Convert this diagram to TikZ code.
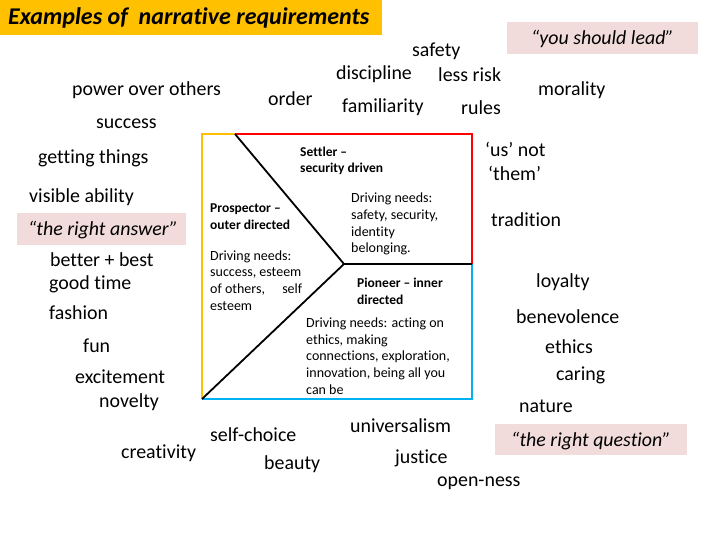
\documentclass[tikz,border=0pt]{standalone}
\usepackage{fontspec}
\setmainfont{Carlito}[Ligatures={NoCommon,TeX}]
\definecolor{titleyel}{HTML}{FFC000}
\definecolor{linered}{HTML}{FF0000}
\definecolor{lineblue}{HTML}{00B0F0}
\definecolor{quotepink}{HTML}{F2DCDB}
\tikzset{
  word/.style={anchor=west, inner sep=0pt, yshift=-1.2pt, font=\fontsize{19.9}{23}\selectfont},
  quotetxt/.style={inner sep=0pt, yshift=-1pt, font=\fontsize{19.9}{23}\selectfont\itshape},
  head/.style={anchor=west, inner sep=0pt, align=left, font=\fontsize{13.5}{16.6}\selectfont\bfseries},
  body/.style={anchor=west, inner sep=0pt, align=left, font=\fontsize{14}{16.8}\selectfont},
  edge/.style={line width=2pt},
  divider/.style={line width=1.8pt, black}
}
\begin{document}
\begin{tikzpicture}[x=1pt,y=-1pt]
\useasboundingbox (0,0) rectangle (720,540);
% title
\fill[titleyel] (0,0) rectangle (382,35);
\node[anchor=west, inner sep=0pt, font=\fontsize{24}{28}\selectfont\bfseries\itshape] (title) at (8,18) {Examples of\ \ narrative requirements};
% quote boxes
\fill[quotepink] (507,22) rectangle (698,54);
\node[quotetxt] (qlead) at (602.5,38) {“you should lead”};
\fill[quotepink] (17,213) rectangle (186,245);
\node[quotetxt] (qanswer) at (103,229) {“the right answer”};
\fill[quotepink] (495,424) rectangle (687,455);
\node[quotetxt] (qquestion) at (591,440) {“the right question”};
% central box
\coordinate (tl) at (202,134);
\coordinate (tk) at (235,134);
\coordinate (tr) at (472,134);
\coordinate (rm) at (472,264);
\coordinate (br) at (472,399);
\coordinate (bl) at (202,399);
\coordinate (ctr) at (344,264);
\draw[edge, titleyel] (tk) -- (tl) -- (bl);
\draw[edge, linered] (tk) -- (tr) -- (rm);
\draw[edge, lineblue] (rm) -- (br) -- (bl);
\draw[divider] (tk) -- (ctr) -- (rm);
\draw[divider] (ctr) -- (bl);
% box texts
\node[head] (settler) at (300,161) {Settler –\\security driven};
\node[body] (settlerneeds) at (351,224) {Driving needs:\\safety, security,\\identity\\belonging.};
\node[head] (prospector) at (210,216.5) {Prospector –\\outer directed};
\node[body] (prospneeds) at (210,280.5) {Driving needs:\\success, esteem\\\hbox to 92pt{of others,\hfill self}\\esteem};
\node[head] (pioneer) at (357,291.5) {Pioneer – inner\\directed};
\node[body] (pioneerneeds) at (306,356) {Driving needs: acting on\\ethics, making\\connections, exploration,\\innovation, being all you\\can be};
% words
\node[word] (w1) at (412,50) {safety};
\node[word] (w2) at (336,73) {discipline};
\node[word] (w3) at (438,73) {less risk};
\node[word] (w4) at (268,97) {order};
\node[word] (w5) at (342,106) {familiarity};
\node[word] (w6) at (461,106) {rules};
\node[word] (w7) at (538,89) {morality};
\node[word] (w8) at (72,89) {power over others};
\node[word] (w9) at (96,123) {success};
\node[word] (w10) at (38,157) {getting things};
\node[word] (w11) at (29,196) {visible ability};
\node[word] (w12) at (50,258) {better + best};
\node[word] (w13) at (49,283) {good time};
\node[word] (w14) at (49,311) {fashion};
\node[word] (w15) at (83,345) {fun};
\node[word] (w16) at (75,376) {excitement};
\node[word] (w17) at (99,401) {novelty};
\node[word] (w18) at (121,452) {creativity};
\node[word] (w19) at (210,433) {self-choice};
\node[word] (w20) at (264,463) {beauty};
\node[word] (w21) at (350,424) {universalism};
\node[word] (w22) at (395,457) {justice};
\node[word] (w23) at (437,482) {open-ness};
\node[word] (w24) at (485,148) {‘us’ not};
\node[word] (w25) at (488,172) {‘them’};
\node[word] (w26) at (491,218) {tradition};
\node[word] (w27) at (536,281) {loyalty};
\node[word] (w28) at (516,315) {benevolence};
\node[word] (w29) at (545,345) {ethics};
\node[word] (w30) at (556,374) {caring};
\node[word] (w31) at (519,405) {nature};
\end{tikzpicture}
\end{document}
